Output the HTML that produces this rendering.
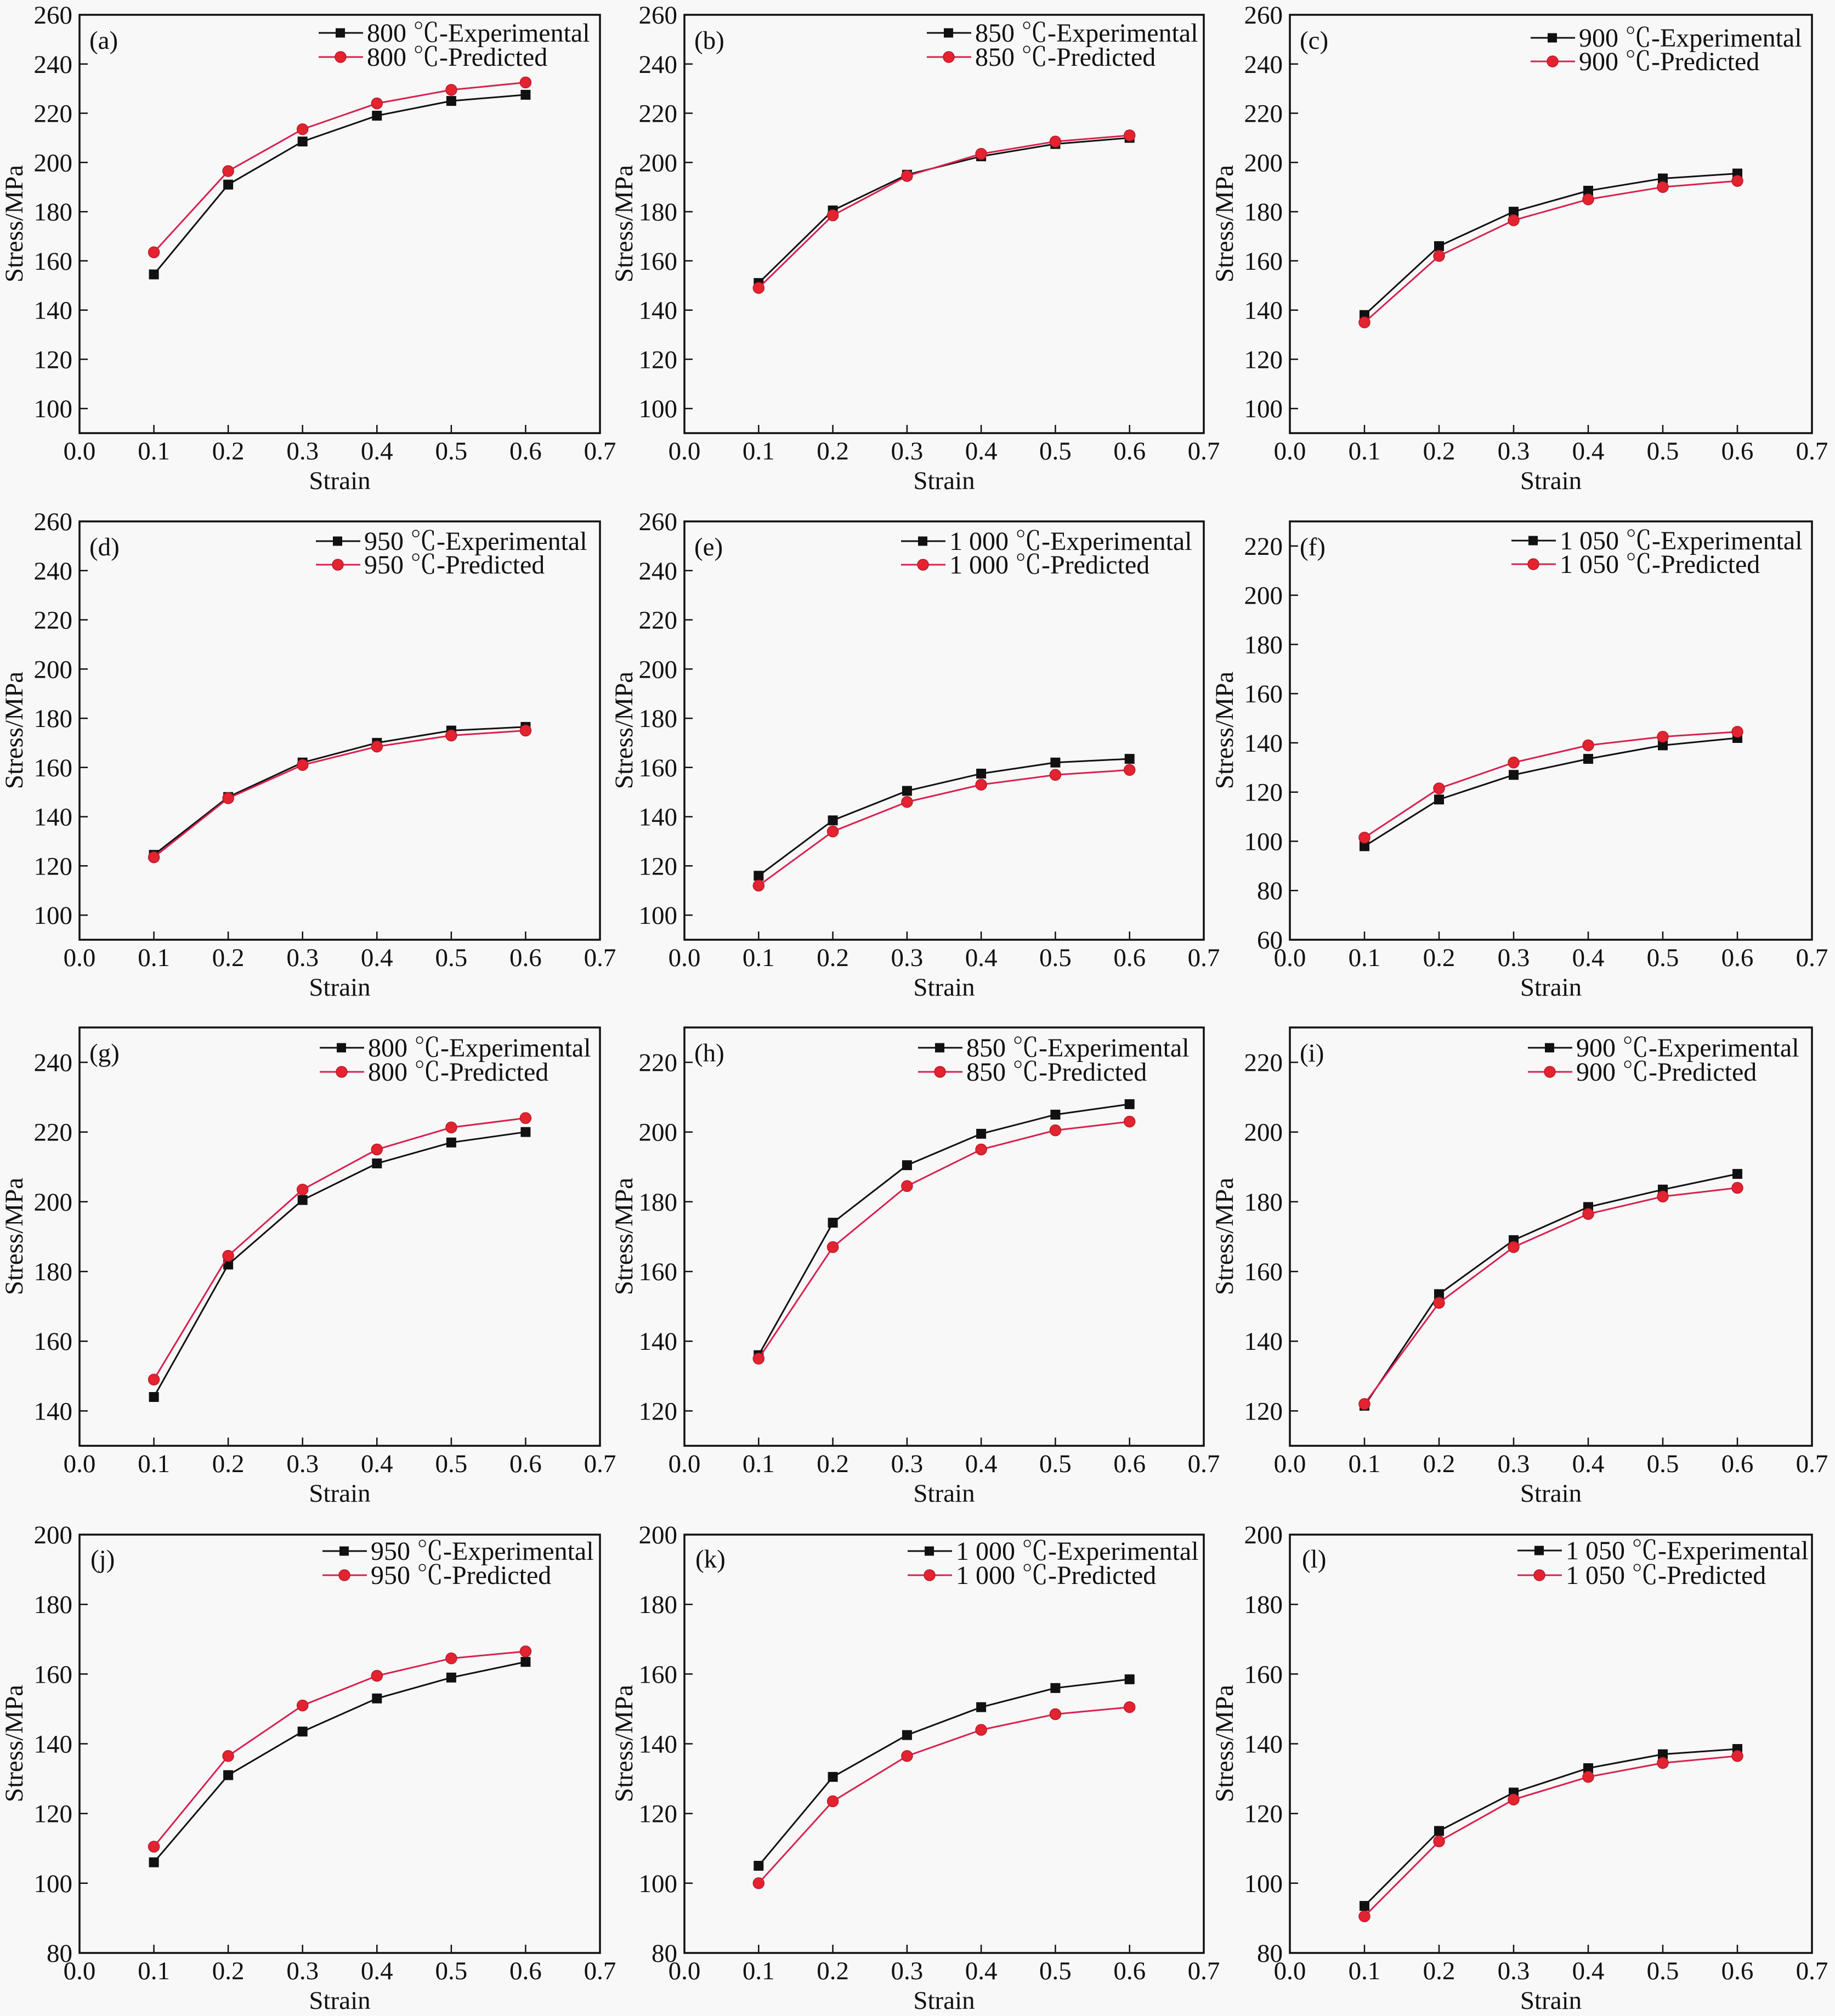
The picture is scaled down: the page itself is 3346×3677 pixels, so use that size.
<!DOCTYPE html>
<html><head><meta charset="utf-8"><style>
body{margin:0;background:#f8f8f8}
svg{display:block}
text{font-family:"Liberation Serif","Noto Serif CJK SC",serif;font-size:47px;fill:#111}
.m{text-anchor:middle}
.e{text-anchor:end}
.lg{font-size:48px}
.fr{fill:none;stroke:#111;stroke-width:3.5}
.tk{stroke:#111;stroke-width:2.5;fill:none}
.se{fill:none;stroke:#111;stroke-width:3;marker-start:url(#sq);marker-mid:url(#sq);marker-end:url(#sq)}
.sp{fill:none;stroke:#d8204e;stroke-width:3;marker-start:url(#ci);marker-mid:url(#ci);marker-end:url(#ci)}
.ll{stroke:#111;stroke-width:3}
.lr{stroke:#d8204e;stroke-width:3}
.ms{fill:#111}
.mc{fill:#e42330;stroke:#b81c2a;stroke-width:1.5}
</style></head><body>
<svg width="3346" height="3677" viewBox="0 0 3346 3677" xmlns="http://www.w3.org/2000/svg">
<defs>
<marker id="sq" markerUnits="userSpaceOnUse" markerWidth="24" markerHeight="24" refX="12" refY="12" viewBox="0 0 24 24" overflow="visible"><rect x="3" y="3" width="18" height="18" fill="#111"/></marker>
<marker id="ci" markerUnits="userSpaceOnUse" markerWidth="24" markerHeight="24" refX="12" refY="12" viewBox="0 0 24 24" overflow="visible"><circle cx="12" cy="12" r="10" fill="#e42330" stroke="#b81c2a" stroke-width="1.5"/></marker>
</defs>
<rect width="3346" height="3677" fill="#f8f8f8"/>

<!-- (a) -->
<g transform="translate(145,27)">
<rect class="fr" width="949" height="763"/>
<path class="tk" d="M135.6 763v-15M271.1 763v-15M406.7 763v-15M542.3 763v-15M677.9 763v-15M813.4 763v-15"/>
<path class="tk" d="M0 89.8h15M0 179.5h15M0 269.3h15M0 359.1h15M0 448.8h15M0 538.6h15M0 628.3h15M0 718.1h15"/>
<text class="m" x="0" y="811">0.0</text><text class="m" x="135.6" y="811">0.1</text><text class="m" x="271.1" y="811">0.2</text><text class="m" x="406.7" y="811">0.3</text><text class="m" x="542.3" y="811">0.4</text><text class="m" x="677.9" y="811">0.5</text><text class="m" x="813.4" y="811">0.6</text><text class="m" x="949" y="811">0.7</text>
<text class="e" x="-13" y="16">260</text><text class="e" x="-13" y="105.8">240</text><text class="e" x="-13" y="195.5">220</text><text class="e" x="-13" y="285.3">200</text><text class="e" x="-13" y="375.1">180</text><text class="e" x="-13" y="464.8">160</text><text class="e" x="-13" y="554.6">140</text><text class="e" x="-13" y="644.3">120</text><text class="e" x="-13" y="734.1">100</text>
<text class="m" transform="translate(-104,381) rotate(-90)">Stress/MPa</text>
<text class="m" x="474.5" y="865">Strain</text>
<text x="18" y="62">(a)</text>
<line class="ll" x1="436" y1="33" x2="517" y2="33"/><rect class="ms" x="467" y="24.5" width="17" height="17"/><text class="lg" x="524" y="49">800 ℃-Experimental</text>
<line class="lr" x1="436" y1="77" x2="517" y2="77"/><circle class="mc" cx="476" cy="77" r="10"/><text class="lg" x="524" y="93">800 ℃-Predicted</text>
<polyline class="se" points="135.6,473.5 271.1,309.7 406.7,231.1 542.3,184 677.9,157.1 813.4,145.9"/>
<polyline class="sp" points="135.6,433.1 271.1,285 406.7,208.7 542.3,161.6 677.9,136.9 813.4,123.4"/>
</g>

<!-- (b) -->
<g transform="translate(1248,27)">
<rect class="fr" width="947" height="763"/>
<path class="tk" d="M135.3 763v-15M270.6 763v-15M405.9 763v-15M541.1 763v-15M676.4 763v-15M811.7 763v-15"/>
<path class="tk" d="M0 89.8h15M0 179.5h15M0 269.3h15M0 359.1h15M0 448.8h15M0 538.6h15M0 628.3h15M0 718.1h15"/>
<text class="m" x="0" y="811">0.0</text><text class="m" x="135.3" y="811">0.1</text><text class="m" x="270.6" y="811">0.2</text><text class="m" x="405.9" y="811">0.3</text><text class="m" x="541.1" y="811">0.4</text><text class="m" x="676.4" y="811">0.5</text><text class="m" x="811.7" y="811">0.6</text><text class="m" x="947" y="811">0.7</text>
<text class="e" x="-13" y="16">260</text><text class="e" x="-13" y="105.8">240</text><text class="e" x="-13" y="195.5">220</text><text class="e" x="-13" y="285.3">200</text><text class="e" x="-13" y="375.1">180</text><text class="e" x="-13" y="464.8">160</text><text class="e" x="-13" y="554.6">140</text><text class="e" x="-13" y="644.3">120</text><text class="e" x="-13" y="734.1">100</text>
<text class="m" transform="translate(-95,381) rotate(-90)">Stress/MPa</text>
<text class="m" x="473.5" y="865">Strain</text>
<text x="18" y="62">(b)</text>
<line class="ll" x1="442" y1="33" x2="523" y2="33"/><rect class="ms" x="473" y="24.5" width="17" height="17"/><text class="lg" x="530" y="49">850 ℃-Experimental</text>
<line class="lr" x1="442" y1="77" x2="523" y2="77"/><circle class="mc" cx="482" cy="77" r="10"/><text class="lg" x="530" y="93">850 ℃-Predicted</text>
<polyline class="se" points="135.3,489.2 270.6,356.8 405.9,291.7 541.1,258.1 676.4,235.6 811.7,224.4"/>
<polyline class="sp" points="135.3,498.2 270.6,365.8 405.9,294 541.1,253.6 676.4,231.1 811.7,219.9"/>
</g>

<!-- (c) -->
<g transform="translate(2352,27)">
<rect class="fr" width="952" height="763"/>
<path class="tk" d="M136 763v-15M272 763v-15M408 763v-15M544 763v-15M680 763v-15M816 763v-15"/>
<path class="tk" d="M0 89.8h15M0 179.5h15M0 269.3h15M0 359.1h15M0 448.8h15M0 538.6h15M0 628.3h15M0 718.1h15"/>
<text class="m" x="0" y="811">0.0</text><text class="m" x="136" y="811">0.1</text><text class="m" x="272" y="811">0.2</text><text class="m" x="408" y="811">0.3</text><text class="m" x="544" y="811">0.4</text><text class="m" x="680" y="811">0.5</text><text class="m" x="816" y="811">0.6</text><text class="m" x="952" y="811">0.7</text>
<text class="e" x="-13" y="16">260</text><text class="e" x="-13" y="105.8">240</text><text class="e" x="-13" y="195.5">220</text><text class="e" x="-13" y="285.3">200</text><text class="e" x="-13" y="375.1">180</text><text class="e" x="-13" y="464.8">160</text><text class="e" x="-13" y="554.6">140</text><text class="e" x="-13" y="644.3">120</text><text class="e" x="-13" y="734.1">100</text>
<text class="m" transform="translate(-104,381) rotate(-90)">Stress/MPa</text>
<text class="m" x="476" y="865">Strain</text>
<text x="18" y="62">(c)</text>
<line class="ll" x1="439" y1="42" x2="520" y2="42"/><rect class="ms" x="470" y="33.5" width="17" height="17"/><text class="lg" x="527" y="58">900 ℃-Experimental</text>
<line class="lr" x1="439" y1="85" x2="520" y2="85"/><circle class="mc" cx="479" cy="85" r="10"/><text class="lg" x="527" y="101">900 ℃-Predicted</text>
<polyline class="se" points="136,547.6 272,421.9 408,359.1 544,320.9 680,298.5 816,289.5"/>
<polyline class="sp" points="136,561 272,439.8 408,374.8 544,336.6 680,314.2 816,303"/>
</g>

<!-- (d) -->
<g transform="translate(145,951)">
<rect class="fr" width="949" height="763"/>
<path class="tk" d="M135.6 763v-15M271.1 763v-15M406.7 763v-15M542.3 763v-15M677.9 763v-15M813.4 763v-15"/>
<path class="tk" d="M0 89.8h15M0 179.5h15M0 269.3h15M0 359.1h15M0 448.8h15M0 538.6h15M0 628.3h15M0 718.1h15"/>
<text class="m" x="0" y="811">0.0</text><text class="m" x="135.6" y="811">0.1</text><text class="m" x="271.1" y="811">0.2</text><text class="m" x="406.7" y="811">0.3</text><text class="m" x="542.3" y="811">0.4</text><text class="m" x="677.9" y="811">0.5</text><text class="m" x="813.4" y="811">0.6</text><text class="m" x="949" y="811">0.7</text>
<text class="e" x="-13" y="16">260</text><text class="e" x="-13" y="105.8">240</text><text class="e" x="-13" y="195.5">220</text><text class="e" x="-13" y="285.3">200</text><text class="e" x="-13" y="375.1">180</text><text class="e" x="-13" y="464.8">160</text><text class="e" x="-13" y="554.6">140</text><text class="e" x="-13" y="644.3">120</text><text class="e" x="-13" y="734.1">100</text>
<text class="m" transform="translate(-104,381) rotate(-90)">Stress/MPa</text>
<text class="m" x="474.5" y="865">Strain</text>
<text x="18" y="62">(d)</text>
<line class="ll" x1="431" y1="36" x2="512" y2="36"/><rect class="ms" x="462" y="27.5" width="17" height="17"/><text class="lg" x="519" y="52">950 ℃-Experimental</text>
<line class="lr" x1="431" y1="79" x2="512" y2="79"/><circle class="mc" cx="471" cy="79" r="10"/><text class="lg" x="519" y="95">950 ℃-Predicted</text>
<polyline class="se" points="135.6,608.2 271.1,502.7 406.7,439.8 542.3,403.9 677.9,381.5 813.4,374.8"/>
<polyline class="sp" points="135.6,612.6 271.1,504.9 406.7,444.3 542.3,410.7 677.9,390.5 813.4,381.5"/>
</g>

<!-- (e) -->
<g transform="translate(1248,951)">
<rect class="fr" width="947" height="763"/>
<path class="tk" d="M135.3 763v-15M270.6 763v-15M405.9 763v-15M541.1 763v-15M676.4 763v-15M811.7 763v-15"/>
<path class="tk" d="M0 89.8h15M0 179.5h15M0 269.3h15M0 359.1h15M0 448.8h15M0 538.6h15M0 628.3h15M0 718.1h15"/>
<text class="m" x="0" y="811">0.0</text><text class="m" x="135.3" y="811">0.1</text><text class="m" x="270.6" y="811">0.2</text><text class="m" x="405.9" y="811">0.3</text><text class="m" x="541.1" y="811">0.4</text><text class="m" x="676.4" y="811">0.5</text><text class="m" x="811.7" y="811">0.6</text><text class="m" x="947" y="811">0.7</text>
<text class="e" x="-13" y="16">260</text><text class="e" x="-13" y="105.8">240</text><text class="e" x="-13" y="195.5">220</text><text class="e" x="-13" y="285.3">200</text><text class="e" x="-13" y="375.1">180</text><text class="e" x="-13" y="464.8">160</text><text class="e" x="-13" y="554.6">140</text><text class="e" x="-13" y="644.3">120</text><text class="e" x="-13" y="734.1">100</text>
<text class="m" transform="translate(-95,381) rotate(-90)">Stress/MPa</text>
<text class="m" x="473.5" y="865">Strain</text>
<text x="18" y="62">(e)</text>
<line class="ll" x1="395" y1="36" x2="476" y2="36"/><rect class="ms" x="426" y="27.5" width="17" height="17"/><text class="lg" x="483" y="52">1 000 ℃-Experimental</text>
<line class="lr" x1="395" y1="79" x2="476" y2="79"/><circle class="mc" cx="435" cy="79" r="10"/><text class="lg" x="483" y="95">1 000 ℃-Predicted</text>
<polyline class="se" points="135.3,646.3 270.6,545.3 405.9,491.5 541.1,460 676.4,439.8 811.7,433.1"/>
<polyline class="sp" points="135.3,664.3 270.6,565.5 405.9,511.7 541.1,480.2 676.4,462.3 811.7,453.3"/>
</g>

<!-- (f) -->
<g transform="translate(2352,951)">
<rect class="fr" width="952" height="763"/>
<path class="tk" d="M136 763v-15M272 763v-15M408 763v-15M544 763v-15M680 763v-15M816 763v-15"/>
<path class="tk" d="M0 44.9h15M0 134.6h15M0 224.4h15M0 314.1h15M0 403.9h15M0 493.7h15M0 583.4h15M0 673.2h15"/>
<text class="m" x="0" y="811">0.0</text><text class="m" x="136" y="811">0.1</text><text class="m" x="272" y="811">0.2</text><text class="m" x="408" y="811">0.3</text><text class="m" x="544" y="811">0.4</text><text class="m" x="680" y="811">0.5</text><text class="m" x="816" y="811">0.6</text><text class="m" x="952" y="811">0.7</text>
<text class="e" x="-13" y="60.9">220</text><text class="e" x="-13" y="150.6">200</text><text class="e" x="-13" y="240.4">180</text><text class="e" x="-13" y="330.1">160</text><text class="e" x="-13" y="419.9">140</text><text class="e" x="-13" y="509.7">120</text><text class="e" x="-13" y="599.4">100</text><text class="e" x="-13" y="689.2">80</text><text class="e" x="-13" y="779">60</text>
<text class="m" transform="translate(-104,381) rotate(-90)">Stress/MPa</text>
<text class="m" x="476" y="865">Strain</text>
<text x="18" y="62">(f)</text>
<line class="ll" x1="404" y1="35" x2="485" y2="35"/><rect class="ms" x="435" y="26.5" width="17" height="17"/><text class="lg" x="492" y="51">1 050 ℃-Experimental</text>
<line class="lr" x1="404" y1="78" x2="485" y2="78"/><circle class="mc" cx="444" cy="78" r="10"/><text class="lg" x="492" y="94">1 050 ℃-Predicted</text>
<polyline class="se" points="136,592.4 272,507.2 408,462.3 544,433.1 680,408.4 816,395"/>
<polyline class="sp" points="136,576.7 272,487 408,439.8 544,408.4 680,392.7 816,383.7"/>
</g>

<!-- (g) -->
<g transform="translate(145,1874)">
<rect class="fr" width="949" height="763"/>
<path class="tk" d="M135.6 763v-15M271.1 763v-15M406.7 763v-15M542.3 763v-15M677.9 763v-15M813.4 763v-15"/>
<path class="tk" d="M0 63.6h15M0 190.7h15M0 317.9h15M0 445.1h15M0 572.2h15M0 699.4h15"/>
<text class="m" x="0" y="811">0.0</text><text class="m" x="135.6" y="811">0.1</text><text class="m" x="271.1" y="811">0.2</text><text class="m" x="406.7" y="811">0.3</text><text class="m" x="542.3" y="811">0.4</text><text class="m" x="677.9" y="811">0.5</text><text class="m" x="813.4" y="811">0.6</text><text class="m" x="949" y="811">0.7</text>
<text class="e" x="-13" y="79.6">240</text><text class="e" x="-13" y="206.7">220</text><text class="e" x="-13" y="333.9">200</text><text class="e" x="-13" y="461.1">180</text><text class="e" x="-13" y="588.2">160</text><text class="e" x="-13" y="715.4">140</text>
<text class="m" transform="translate(-104,381) rotate(-90)">Stress/MPa</text>
<text class="m" x="474.5" y="865">Strain</text>
<text x="18" y="62">(g)</text>
<line class="ll" x1="438" y1="37" x2="519" y2="37"/><rect class="ms" x="469" y="28.5" width="17" height="17"/><text class="lg" x="526" y="53">800 ℃-Experimental</text>
<line class="lr" x1="438" y1="81" x2="519" y2="81"/><circle class="mc" cx="478" cy="81" r="10"/><text class="lg" x="526" y="97">800 ℃-Predicted</text>
<polyline class="se" points="135.6,674 271.1,432.4 406.7,314.7 542.3,248 677.9,209.8 813.4,190.7"/>
<polyline class="sp" points="135.6,642.2 271.1,416.5 406.7,295.7 542.3,222.5 677.9,182.4 813.4,165.3"/>
</g>

<!-- (h) -->
<g transform="translate(1248,1874)">
<rect class="fr" width="947" height="763"/>
<path class="tk" d="M135.3 763v-15M270.6 763v-15M405.9 763v-15M541.1 763v-15M676.4 763v-15M811.7 763v-15"/>
<path class="tk" d="M0 63.6h15M0 190.7h15M0 317.9h15M0 445.1h15M0 572.2h15M0 699.4h15"/>
<text class="m" x="0" y="811">0.0</text><text class="m" x="135.3" y="811">0.1</text><text class="m" x="270.6" y="811">0.2</text><text class="m" x="405.9" y="811">0.3</text><text class="m" x="541.1" y="811">0.4</text><text class="m" x="676.4" y="811">0.5</text><text class="m" x="811.7" y="811">0.6</text><text class="m" x="947" y="811">0.7</text>
<text class="e" x="-13" y="79.6">220</text><text class="e" x="-13" y="206.7">200</text><text class="e" x="-13" y="333.9">180</text><text class="e" x="-13" y="461.1">160</text><text class="e" x="-13" y="588.2">140</text><text class="e" x="-13" y="715.4">120</text>
<text class="m" transform="translate(-95,381) rotate(-90)">Stress/MPa</text>
<text class="m" x="473.5" y="865">Strain</text>
<text x="18" y="62">(h)</text>
<line class="ll" x1="426" y1="37" x2="507" y2="37"/><rect class="ms" x="457" y="28.5" width="17" height="17"/><text class="lg" x="514" y="53">850 ℃-Experimental</text>
<line class="lr" x1="426" y1="81" x2="507" y2="81"/><circle class="mc" cx="466" cy="81" r="10"/><text class="lg" x="514" y="97">850 ℃-Predicted</text>
<polyline class="se" points="135.3,597.7 270.6,356.1 405.9,251.2 541.1,193.9 676.4,159 811.7,139.9"/>
<polyline class="sp" points="135.3,604 270.6,400.6 405.9,289.3 541.1,222.5 676.4,187.6 811.7,171.7"/>
</g>

<!-- (i) -->
<g transform="translate(2352,1874)">
<rect class="fr" width="952" height="763"/>
<path class="tk" d="M136 763v-15M272 763v-15M408 763v-15M544 763v-15M680 763v-15M816 763v-15"/>
<path class="tk" d="M0 63.6h15M0 190.7h15M0 317.9h15M0 445.1h15M0 572.2h15M0 699.4h15"/>
<text class="m" x="0" y="811">0.0</text><text class="m" x="136" y="811">0.1</text><text class="m" x="272" y="811">0.2</text><text class="m" x="408" y="811">0.3</text><text class="m" x="544" y="811">0.4</text><text class="m" x="680" y="811">0.5</text><text class="m" x="816" y="811">0.6</text><text class="m" x="952" y="811">0.7</text>
<text class="e" x="-13" y="79.6">220</text><text class="e" x="-13" y="206.7">200</text><text class="e" x="-13" y="333.9">180</text><text class="e" x="-13" y="461.1">160</text><text class="e" x="-13" y="588.2">140</text><text class="e" x="-13" y="715.4">120</text>
<text class="m" transform="translate(-104,381) rotate(-90)">Stress/MPa</text>
<text class="m" x="476" y="865">Strain</text>
<text x="18" y="62">(i)</text>
<line class="ll" x1="434" y1="37" x2="515" y2="37"/><rect class="ms" x="465" y="28.5" width="17" height="17"/><text class="lg" x="522" y="53">900 ℃-Experimental</text>
<line class="lr" x1="434" y1="81" x2="515" y2="81"/><circle class="mc" cx="474" cy="81" r="10"/><text class="lg" x="522" y="97">900 ℃-Predicted</text>
<polyline class="se" points="136,689.9 272,486.4 408,387.9 544,327.5 680,295.7 816,267.1"/>
<polyline class="sp" points="136,686.7 272,502.3 408,400.6 544,340.2 680,308.4 816,292.5"/>
</g>

<!-- (j) -->
<g transform="translate(145,2799)">
<rect class="fr" width="949" height="763"/>
<path class="tk" d="M135.6 763v-15M271.1 763v-15M406.7 763v-15M542.3 763v-15M677.9 763v-15M813.4 763v-15"/>
<path class="tk" d="M0 127.2h15M0 254.3h15M0 381.5h15M0 508.7h15M0 635.8h15"/>
<text class="m" x="0" y="811">0.0</text><text class="m" x="135.6" y="811">0.1</text><text class="m" x="271.1" y="811">0.2</text><text class="m" x="406.7" y="811">0.3</text><text class="m" x="542.3" y="811">0.4</text><text class="m" x="677.9" y="811">0.5</text><text class="m" x="813.4" y="811">0.6</text><text class="m" x="949" y="811">0.7</text>
<text class="e" x="-13" y="16">200</text><text class="e" x="-13" y="143.2">180</text><text class="e" x="-13" y="270.3">160</text><text class="e" x="-13" y="397.5">140</text><text class="e" x="-13" y="524.7">120</text><text class="e" x="-13" y="651.8">100</text><text class="e" x="-13" y="779">80</text>
<text class="m" transform="translate(-104,381) rotate(-90)">Stress/MPa</text>
<text class="m" x="474.5" y="865">Strain</text>
<text x="20" y="60">(j)</text>
<line class="ll" x1="443" y1="30" x2="524" y2="30"/><rect class="ms" x="474" y="21.5" width="17" height="17"/><text class="lg" x="531" y="46">950 ℃-Experimental</text>
<line class="lr" x1="443" y1="74" x2="524" y2="74"/><circle class="mc" cx="483" cy="74" r="10"/><text class="lg" x="531" y="90">950 ℃-Predicted</text>
<polyline class="se" points="135.6,597.7 271.1,438.7 406.7,359.2 542.3,298.8 677.9,260.7 813.4,232.1"/>
<polyline class="sp" points="135.6,569.1 271.1,403.8 406.7,311.6 542.3,257.5 677.9,225.7 813.4,213"/>
</g>

<!-- (k) -->
<g transform="translate(1248,2799)">
<rect class="fr" width="947" height="763"/>
<path class="tk" d="M135.3 763v-15M270.6 763v-15M405.9 763v-15M541.1 763v-15M676.4 763v-15M811.7 763v-15"/>
<path class="tk" d="M0 127.2h15M0 254.3h15M0 381.5h15M0 508.7h15M0 635.8h15"/>
<text class="m" x="0" y="811">0.0</text><text class="m" x="135.3" y="811">0.1</text><text class="m" x="270.6" y="811">0.2</text><text class="m" x="405.9" y="811">0.3</text><text class="m" x="541.1" y="811">0.4</text><text class="m" x="676.4" y="811">0.5</text><text class="m" x="811.7" y="811">0.6</text><text class="m" x="947" y="811">0.7</text>
<text class="e" x="-13" y="16">200</text><text class="e" x="-13" y="143.2">180</text><text class="e" x="-13" y="270.3">160</text><text class="e" x="-13" y="397.5">140</text><text class="e" x="-13" y="524.7">120</text><text class="e" x="-13" y="651.8">100</text><text class="e" x="-13" y="779">80</text>
<text class="m" transform="translate(-95,381) rotate(-90)">Stress/MPa</text>
<text class="m" x="473.5" y="865">Strain</text>
<text x="20" y="60">(k)</text>
<line class="ll" x1="407" y1="30" x2="488" y2="30"/><rect class="ms" x="438" y="21.5" width="17" height="17"/><text class="lg" x="495" y="46">1 000 ℃-Experimental</text>
<line class="lr" x1="407" y1="74" x2="488" y2="74"/><circle class="mc" cx="447" cy="74" r="10"/><text class="lg" x="495" y="90">1 000 ℃-Predicted</text>
<polyline class="se" points="135.3,604 270.6,441.9 405.9,365.6 541.1,314.7 676.4,279.8 811.7,263.9"/>
<polyline class="sp" points="135.3,635.8 270.6,486.4 405.9,403.8 541.1,356.1 676.4,327.5 811.7,314.7"/>
</g>

<!-- (l) -->
<g transform="translate(2352,2799)">
<rect class="fr" width="952" height="763"/>
<path class="tk" d="M136 763v-15M272 763v-15M408 763v-15M544 763v-15M680 763v-15M816 763v-15"/>
<path class="tk" d="M0 127.2h15M0 254.3h15M0 381.5h15M0 508.7h15M0 635.8h15"/>
<text class="m" x="0" y="811">0.0</text><text class="m" x="136" y="811">0.1</text><text class="m" x="272" y="811">0.2</text><text class="m" x="408" y="811">0.3</text><text class="m" x="544" y="811">0.4</text><text class="m" x="680" y="811">0.5</text><text class="m" x="816" y="811">0.6</text><text class="m" x="952" y="811">0.7</text>
<text class="e" x="-13" y="16">200</text><text class="e" x="-13" y="143.2">180</text><text class="e" x="-13" y="270.3">160</text><text class="e" x="-13" y="397.5">140</text><text class="e" x="-13" y="524.7">120</text><text class="e" x="-13" y="651.8">100</text><text class="e" x="-13" y="779">80</text>
<text class="m" transform="translate(-104,381) rotate(-90)">Stress/MPa</text>
<text class="m" x="476" y="865">Strain</text>
<text x="22" y="60">(l)</text>
<line class="ll" x1="415" y1="29" x2="496" y2="29"/><rect class="ms" x="446" y="20.5" width="17" height="17"/><text class="lg" x="503" y="45">1 050 ℃-Experimental</text>
<line class="lr" x1="415" y1="74" x2="496" y2="74"/><circle class="mc" cx="455" cy="74" r="10"/><text class="lg" x="503" y="90">1 050 ℃-Predicted</text>
<polyline class="se" points="136,677.2 272,540.5 408,470.5 544,426 680,400.6 816,391"/>
<polyline class="sp" points="136,696.2 272,559.5 408,483.2 544,441.9 680,416.5 816,403.8"/>
</g>
</svg>
</body></html>
